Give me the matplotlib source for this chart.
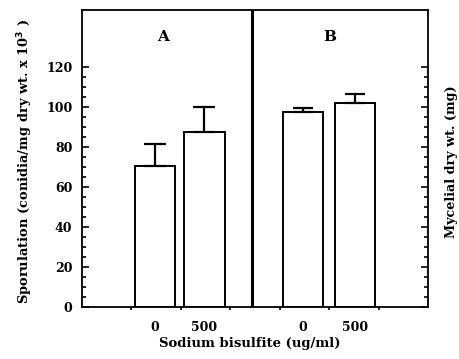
import matplotlib
matplotlib.use("Agg")
import matplotlib.pyplot as plt
from matplotlib.ticker import FixedLocator, NullFormatter

# Data
doses = ["0", "500"]
spor_values = [70.5, 87.5]
spor_errors = [11.0, 12.5]
myc_values = [97.5, 102.0]
myc_errors = [2.0, 4.5]
panel_labels = ["A", "B"]
ytick_values = [0, 20, 40, 60, 80, 100, 120]
yminor_values = list(range(0, 125, 5))

plt.rcParams['font.family'] = ['DejaVu Serif']
plt.rcParams['font.weight'] = 'bold'

fig = plt.figure(figsize=(4.59, 3.59), dpi=100)
ax = fig.add_axes([82/459, 52/359, 346/459, 297/359])

xa = [1.475, 2.475]
xb = [4.47, 5.52]
width = 0.82
lw = 1.4

ax.bar(xa, spor_values, width=width, facecolor='white', edgecolor='black', linewidth=lw, zorder=2)
ax.errorbar(xa, spor_values, yerr=[[0, 0], spor_errors], fmt='none', ecolor='black',
            elinewidth=1.6, capsize=8, capthick=1.6, zorder=3)
ax.bar(xb, myc_values, width=width, facecolor='white', edgecolor='black', linewidth=lw, zorder=2)
ax.errorbar(xb, myc_values, yerr=[[0, 0], myc_errors], fmt='none', ecolor='black',
            elinewidth=1.6, capsize=7, capthick=1.6, zorder=3)

ax.axvline(3.44, color='black', linewidth=2.2, zorder=4)

ax.set_xlim(0, 7)
ax.set_ylim(0, 148.5)

ax.yaxis.set_major_locator(FixedLocator(ytick_values))
ax.yaxis.set_minor_locator(FixedLocator(yminor_values))
ax.xaxis.set_major_locator(FixedLocator([1, 2, 3, 4, 5, 6]))
ax.xaxis.set_major_formatter(NullFormatter())

ax.tick_params(axis='y', which='both', direction='in', left=True, right=True,
               labelsize=9, pad=7, width=1.2)
ax.tick_params(axis='y', which='major', length=5)
ax.tick_params(axis='y', which='minor', length=3)
ax.tick_params(axis='x', which='major', direction='out', length=2.5, width=1.2)

for s in ax.spines.values():
    s.set_linewidth(1.3)

for x, d in zip(xa + xb, doses + doses):
    ax.text(x, -7, d, ha='center', va='top', fontsize=9, fontweight='bold')

ax.text(1.64, 135, panel_labels[0], ha='center', va='center', fontsize=11, fontweight='bold')
ax.text(5.02, 135, panel_labels[1], ha='center', va='center', fontsize=11, fontweight='bold')

fig.text(250/459, 1 - 344/359, "Sodium bisulfite (ug/ml)", ha='center', va='center',
         fontsize=9.5, fontweight='bold')
fig.text(25/459, 1 - 162/359, r"Sporulation (conidia/mg dry wt. x 10$^{\mathbf{3}}$ )",
         ha='center', va='center', rotation=90, fontsize=9.4, fontweight='bold')
fig.text(452/459, 1 - 162/359, "Mycelial dry wt. (mg)", ha='center', va='center',
         rotation=90, fontsize=9.2, fontweight='bold')

fig.savefig("out.png", dpi=100)
